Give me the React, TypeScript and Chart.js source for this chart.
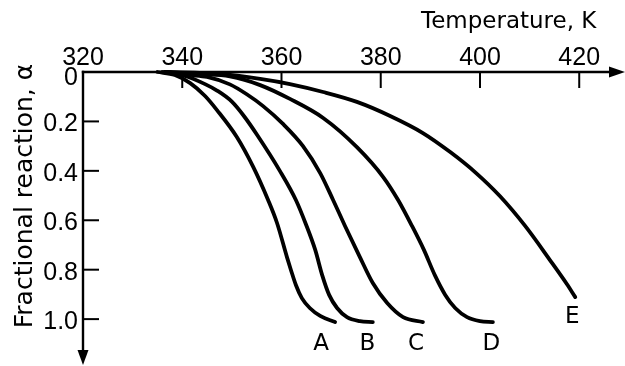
import React, { useEffect, useRef } from 'react';
import { Chart, registerables } from 'chart.js';

Chart.register(...registerables);

// ---- data ----
const xTicks = [340, 360, 380, 400, 420];
const xTickLabels = ['320', '340', '360', '380', '400', '420'];
const xTickLabelValues = [320, 340, 360, 380, 400, 420];
const yTicks = [0.2, 0.4, 0.6, 0.8, 1.0];
const yTickLabels = ['0', '0.2', '0.4', '0.6', '0.8', '1.0'];
const yTickLabelValues = [0, 0.2, 0.4, 0.6, 0.8, 1.0];

const curveNames = ['A', 'B', 'C', 'D', 'E'];

const tempA = [335, 338.5, 341.6, 344.6, 347.0, 351.0, 354.3, 357.3, 359.1, 361.1, 361.9, 362.9, 364.1, 365.7, 367.8, 370.8];
const alphaA = [0, 0.012, 0.045, 0.097, 0.154, 0.263, 0.384, 0.518, 0.611, 0.749, 0.801, 0.862, 0.915, 0.955, 0.987, 1.012];

const tempB = [336, 340.6, 344.6, 347, 350, 352.5, 355.1, 359.7, 362.9, 364.9, 366.8, 368.2, 369.6, 371.2, 373.2, 375.8, 378.4];
const alphaB = [0, 0.016, 0.049, 0.075, 0.12, 0.18, 0.255, 0.401, 0.518, 0.615, 0.72, 0.822, 0.902, 0.955, 0.992, 1.008, 1.012];

const tempC = [336.5, 341.6, 345, 349.6, 353, 356.3, 360.3, 364.3, 367.8, 370.4, 372.8, 375.8, 378.4, 381.3, 384.5, 388.5];
const alphaC = [0, 0.012, 0.02, 0.05, 0.09, 0.138, 0.21, 0.299, 0.409, 0.518, 0.623, 0.749, 0.854, 0.935, 0.992, 1.012];

const tempD = [336.5, 343.6, 349.6, 355.7, 361.7, 368.4, 375.2, 380.5, 383.5, 386.3, 388.7, 390.9, 393.0, 395.0, 397.4, 400.0, 402.6];
const alphaD = [0, 0.008, 0.018, 0.053, 0.109, 0.186, 0.304, 0.425, 0.518, 0.623, 0.72, 0.822, 0.902, 0.955, 0.992, 1.008, 1.012];

const tempE = [336.5, 347.6, 355.7, 361.7, 368.4, 375.2, 381.9, 388.5, 394.0, 399.0, 404.0, 409.1, 414.1, 417.5, 419.2];
const alphaE = [0, 0.008, 0.028, 0.049, 0.081, 0.121, 0.178, 0.247, 0.324, 0.405, 0.502, 0.623, 0.761, 0.858, 0.911];

const labelTemps = [368, 377.3, 387.1, 402.3, 418.6];
const labelAlphas = [1.091, 1.091, 1.091, 1.091, 0.982];

const xTitle = 'Temperature, K';
const yTitle = 'Fractional reaction, α';

const xMin = 320;
const xMax = 426;
const yMin = 0;
const yMax = 1.125;

const curves = [
  [tempA, alphaA],
  [tempB, alphaB],
  [tempC, alphaC],
  [tempD, alphaD],
  [tempE, alphaE],
];

const TICK_FONT = "25px 'Liberation Sans Narrow', 'Liberation Sans', Arial, sans-serif";
const TITLE_FONT = "23px 'DejaVu Sans', sans-serif";
const YTITLE_FONT = "25px 'DejaVu Sans', sans-serif";
const LABEL_FONT = "23px 'DejaVu Sans', sans-serif";

const axesPlugin = {
  id: 'paperAxes',
  afterDatasetsDraw(chart: any) {
    const { ctx, chartArea, scales } = chart;
    const xs = scales.x;
    const ys = scales.y;
    const x0 = xs.getPixelForValue(xMin);
    const y0 = ys.getPixelForValue(0);
    const xEnd = chartArea.right;
    const yEnd = chartArea.bottom;
    ctx.save();
    ctx.strokeStyle = '#000';
    ctx.fillStyle = '#000';
    ctx.lineWidth = 2.4;
    ctx.lineCap = 'butt';
    // x axis
    ctx.beginPath();
    ctx.moveTo(x0 - 1.2, y0);
    ctx.lineTo(xEnd + 2, y0);
    ctx.stroke();
    ctx.beginPath();
    ctx.moveTo(xEnd, y0 - 5.5);
    ctx.lineTo(xEnd + 16, y0);
    ctx.lineTo(xEnd, y0 + 5.5);
    ctx.closePath();
    ctx.fill();
    // y axis
    ctx.beginPath();
    ctx.moveTo(x0, y0 - 1.2);
    ctx.lineTo(x0, yEnd + 2);
    ctx.stroke();
    ctx.beginPath();
    ctx.moveTo(x0 - 5.5, yEnd);
    ctx.lineTo(x0, yEnd + 15);
    ctx.lineTo(x0 + 5.5, yEnd);
    ctx.closePath();
    ctx.fill();
    // ticks
    ctx.lineWidth = 2;
    xTicks.forEach((v) => {
      const px = xs.getPixelForValue(v);
      ctx.beginPath();
      ctx.moveTo(px, y0);
      ctx.lineTo(px, y0 + 16);
      ctx.stroke();
    });
    yTicks.forEach((v) => {
      const py = ys.getPixelForValue(v);
      ctx.beginPath();
      ctx.moveTo(x0, py);
      ctx.lineTo(x0 + 16, py);
      ctx.stroke();
    });
    // tick labels
    ctx.font = TICK_FONT;
    ctx.textBaseline = 'alphabetic';
    ctx.textAlign = 'center';
    xTickLabelValues.forEach((v, i) => {
      const px = xs.getPixelForValue(v);
      ctx.fillText(xTickLabels[i], px, y0 - 7);
    });
    ctx.textAlign = 'right';
    yTickLabelValues.forEach((v, i) => {
      const py = ys.getPixelForValue(v);
      const off = v === 0 ? 13 : 10;
      ctx.fillText(yTickLabels[i], x0 - 5, py + off);
    });
    // titles
    ctx.font = TITLE_FONT;
    ctx.textAlign = 'left';
    ctx.fillText(xTitle, 421, 28);
    ctx.save();
    ctx.font = YTITLE_FONT;
    ctx.translate(32, 196);
    ctx.rotate(-Math.PI / 2);
    ctx.textAlign = 'center';
    ctx.fillText(yTitle, 0, 0);
    ctx.restore();
    // curve labels
    ctx.font = LABEL_FONT;
    ctx.textAlign = 'center';
    curveNames.forEach((n, i) => {
      const px = xs.getPixelForValue(labelTemps[i]);
      const py = ys.getPixelForValue(labelAlphas[i]);
      ctx.fillText(n, px, py + 8.4);
    });
    ctx.restore();
  },
};

export default function App() {
  const canvasRef = useRef<HTMLCanvasElement | null>(null);

  useEffect(() => {
    document.body.style.margin = '0';
    const canvas = canvasRef.current;
    if (!canvas) return;
    const chart = new Chart(canvas, {
      type: 'scatter',
      data: {
        datasets: curves.map(([t, a], i) => ({
          label: curveNames[i],
          data: t.map((tv, j) => ({ x: tv, y: a[j] })),
          showLine: true,
          borderColor: '#000',
          backgroundColor: '#000',
          borderWidth: 3.8,
          borderCapStyle: 'round',
          borderJoinStyle: 'round',
          pointRadius: 0,
          pointHoverRadius: 0,
          cubicInterpolationMode: 'monotone',
          clip: false,
        })),
      },
      options: {
        responsive: false,
        animation: false,
        events: [],
        layout: { padding: { left: 83, top: 72, right: 16, bottom: 16 } },
        plugins: { legend: { display: false }, tooltip: { enabled: false } },
        scales: {
          x: { type: 'linear', min: xMin, max: xMax, display: false },
          y: { type: 'linear', min: yMin, max: yMax, reverse: true, display: false },
        },
      },
      plugins: [axesPlugin],
    } as any);
    return () => chart.destroy();
  }, []);

  return (
    <div style={{ width: 625, height: 366, background: '#fff' }}>
      <canvas ref={canvasRef} width={625} height={366} style={{ display: 'block' }} />
    </div>
  );
}
